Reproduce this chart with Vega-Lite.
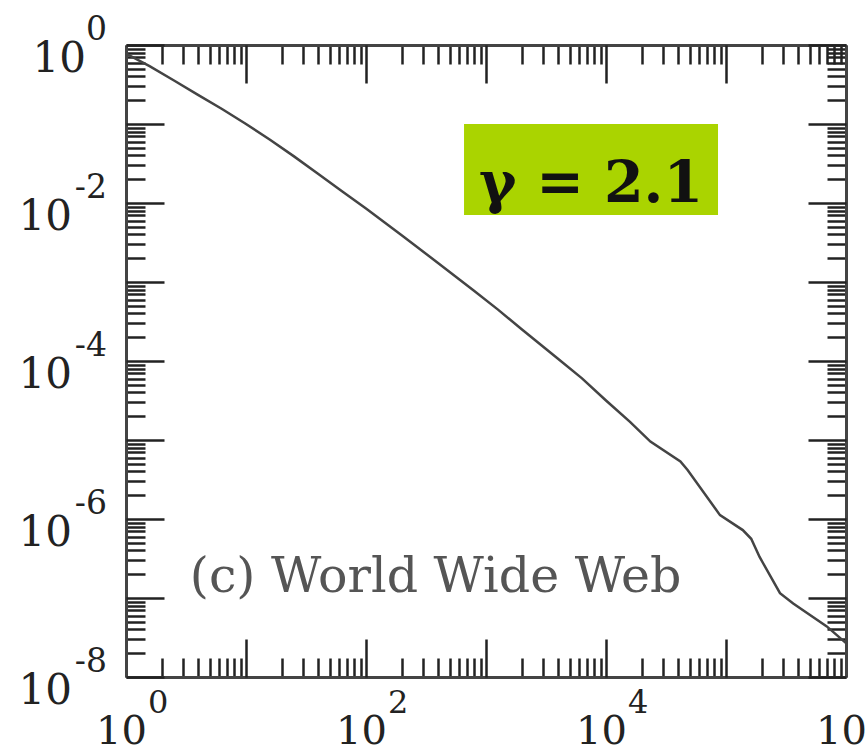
{
  "$schema": "https://vega.github.io/schema/vega-lite/v6.json",
  "width": 720,
  "height": 632,
  "autosize": {"type": "none"},
  "padding": {"left": 126, "top": 45, "right": 22, "bottom": 79},
  "background": "white",
  "config": {"view": {"stroke": null}},
  "datasets": {
    "curve": [
      {"k": 1, "P": 0.776},
      {"k": 1.585, "P": 0.537},
      {"k": 2.512, "P": 0.355},
      {"k": 3.981, "P": 0.234},
      {"k": 6.31, "P": 0.155},
      {"k": 10, "P": 0.1},
      {"k": 15.85, "P": 0.0631},
      {"k": 25.12, "P": 0.0389},
      {"k": 39.81, "P": 0.0234},
      {"k": 63.1, "P": 0.0141},
      {"k": 100, "P": 0.00851},
      {"k": 199.5, "P": 0.00389},
      {"k": 398.1, "P": 0.00174},
      {"k": 794.3, "P": 0.000776},
      {"k": 1259, "P": 0.000447},
      {"k": 1995, "P": 0.000251},
      {"k": 3981, "P": 0.000107},
      {"k": 6310, "P": 0.0000603},
      {"k": 10000, "P": 0.0000316},
      {"k": 15850, "P": 0.000017},
      {"k": 23440, "P": 0.00000955},
      {"k": 41690, "P": 0.00000537},
      {"k": 47860, "P": 0.00000417},
      {"k": 89130, "P": 0.00000112},
      {"k": 138000, "P": 7.24e-7},
      {"k": 162200, "P": 5.62e-7},
      {"k": 190500, "P": 3.31e-7},
      {"k": 281800, "P": 1.15e-7},
      {"k": 363100, "P": 8.51e-8},
      {"k": 691800, "P": 4.37e-8},
      {"k": 1000000, "P": 2.69e-8}
    ],
    "xlab": [
      {"v": 1, "e": "0"},
      {"v": 100, "e": "2"},
      {"v": 10000, "e": "4"},
      {"v": 1000000, "e": "6"}
    ],
    "ylab": [
      {"v": 1, "e": "0"},
      {"v": 0.01, "e": "-2"},
      {"v": 0.0001, "e": "-4"},
      {"v": 0.000001, "e": "-6"},
      {"v": 1e-8, "e": "-8"}
    ],
    "box": [{"x1": 656, "x2": 85800, "y1": 0.1, "y2": 0.00705}],
    "www": [{"x": 3.4, "y": 1.2e-7, "t": "(c) World Wide Web"}],
    "gamma": [{"x": 7500, "y": 0.0103, "t": "γ = 2.1"}]
  },
  "resolve": {"axis": {"x": "independent", "y": "independent"}},
  "layer": [
    {
      "data": {"name": "box"},
      "mark": {"type": "rect", "color": "#aad400"},
      "encoding": {
        "x": {"field": "x1", "type": "quantitative", "scale": {"type": "log", "domain": [1, 1000000], "nice": false},
          "axis": {"orient": "top", "title": null, "labels": false, "grid": false, "domain": true, "domainColor": "#444", "domainWidth": 3, "ticks": true, "tickColor": "#222", "tickWidth": 2.5, "tickSize": -19,
            "values": [2,3,4,5,6,7,8,9,20,30,40,50,60,70,80,90,200,300,400,500,600,700,800,900,2000,3000,4000,5000,6000,7000,8000,9000,20000,30000,40000,50000,60000,70000,80000,90000,200000,300000,400000,500000,600000,700000,800000,900000]}},
        "x2": {"field": "x2"},
        "y": {"field": "y1", "type": "quantitative", "scale": {"type": "log", "domain": [1e-8, 1], "nice": false},
          "axis": {"orient": "right", "title": null, "labels": false, "grid": false, "domain": true, "domainColor": "#444", "domainWidth": 3, "ticks": true, "tickColor": "#222", "tickWidth": 2.5, "tickSize": -19,
            "values": [2e-8,3e-8,4e-8,5e-8,6e-8,7e-8,8e-8,9e-8,2e-7,3e-7,4e-7,5e-7,6e-7,7e-7,8e-7,9e-7,2e-6,3e-6,4e-6,5e-6,6e-6,7e-6,8e-6,9e-6,2e-5,3e-5,4e-5,5e-5,6e-5,7e-5,8e-5,9e-5,0.0002,0.0003,0.0004,0.0005,0.0006,0.0007,0.0008,0.0009,0.002,0.003,0.004,0.005,0.006,0.007,0.008,0.009,0.02,0.03,0.04,0.05,0.06,0.07,0.08,0.09,0.2,0.3,0.4,0.5,0.6,0.7,0.8,0.9]}},
        "y2": {"field": "y2"}
      }
    },
    {
      "data": {"name": "curve"},
      "mark": {"type": "line", "color": "#444", "strokeWidth": 2.5, "clip": true},
      "encoding": {
        "x": {"field": "k", "type": "quantitative",
          "axis": {"orient": "bottom", "title": null, "labels": false, "grid": false, "domain": true, "domainColor": "#444", "domainWidth": 3, "ticks": true, "tickColor": "#222", "tickWidth": 2.5, "tickSize": -19,
            "values": [2,3,4,5,6,7,8,9,20,30,40,50,60,70,80,90,200,300,400,500,600,700,800,900,2000,3000,4000,5000,6000,7000,8000,9000,20000,30000,40000,50000,60000,70000,80000,90000,200000,300000,400000,500000,600000,700000,800000,900000]}},
        "y": {"field": "P", "type": "quantitative",
          "axis": {"orient": "left", "title": null, "labels": false, "grid": false, "domain": true, "domainColor": "#444", "domainWidth": 3, "ticks": true, "tickColor": "#222", "tickWidth": 2.5, "tickSize": -19,
            "values": [2e-8,3e-8,4e-8,5e-8,6e-8,7e-8,8e-8,9e-8,2e-7,3e-7,4e-7,5e-7,6e-7,7e-7,8e-7,9e-7,2e-6,3e-6,4e-6,5e-6,6e-6,7e-6,8e-6,9e-6,2e-5,3e-5,4e-5,5e-5,6e-5,7e-5,8e-5,9e-5,0.0002,0.0003,0.0004,0.0005,0.0006,0.0007,0.0008,0.0009,0.002,0.003,0.004,0.005,0.006,0.007,0.008,0.009,0.02,0.03,0.04,0.05,0.06,0.07,0.08,0.09,0.2,0.3,0.4,0.5,0.6,0.7,0.8,0.9]}}
      }
    },
    {
      "data": {"name": "www"},
      "mark": {"type": "text", "align": "left", "baseline": "alphabetic", "font": "DejaVu Serif", "fontSize": 49, "color": "#555"},
      "encoding": {
        "x": {"field": "x", "type": "quantitative",
          "axis": {"orient": "bottom", "title": null, "labels": false, "grid": false, "domain": false, "ticks": true, "tickColor": "#222", "tickWidth": 2.5, "tickSize": -38,
            "values": [1,10,100,1000,10000,100000,1000000]}},
        "y": {"field": "y", "type": "quantitative",
          "axis": {"orient": "left", "title": null, "labels": false, "grid": false, "domain": false, "ticks": true, "tickColor": "#222", "tickWidth": 2.5, "tickSize": -38,
            "values": [1e-8,1e-7,1e-6,1e-5,0.0001,0.001,0.01,0.1,1]}},
        "text": {"field": "t"}
      }
    },
    {
      "data": {"name": "gamma"},
      "mark": {"type": "text", "align": "center", "baseline": "alphabetic", "font": "DejaVu Serif", "fontWeight": "bold", "fontSize": 57, "color": "#111"},
      "encoding": {
        "x": {"field": "x", "type": "quantitative",
          "axis": {"orient": "top", "title": null, "labels": false, "grid": false, "domain": false, "ticks": true, "tickColor": "#222", "tickWidth": 2.5, "tickSize": -38,
            "values": [1,10,100,1000,10000,100000,1000000]}},
        "y": {"field": "y", "type": "quantitative",
          "axis": {"orient": "right", "title": null, "labels": false, "grid": false, "domain": false, "ticks": true, "tickColor": "#222", "tickWidth": 2.5, "tickSize": -38,
            "values": [1e-8,1e-7,1e-6,1e-5,0.0001,0.001,0.01,0.1,1]}},
        "text": {"field": "t"}
      }
    },
    {
      "data": {"name": "xlab"},
      "mark": {"type": "text", "align": "right", "baseline": "alphabetic", "dx": 21, "dy": 67, "font": "DejaVu Serif", "fontSize": 40, "color": "#222"},
      "encoding": {
        "x": {"field": "v", "type": "quantitative", "axis": null},
        "y": {"datum": 1e-8, "type": "quantitative", "axis": null},
        "text": {"value": "10"}
      }
    },
    {
      "data": {"name": "xlab"},
      "mark": {"type": "text", "align": "left", "baseline": "alphabetic", "dx": 22, "dy": 36, "font": "DejaVu Serif", "fontSize": 32, "color": "#222"},
      "encoding": {
        "x": {"field": "v", "type": "quantitative", "axis": null},
        "y": {"datum": 1e-8, "type": "quantitative", "axis": null},
        "text": {"field": "e"}
      }
    },
    {
      "data": {"name": "ylab"},
      "transform": [{"filter": "datum.e == '0'"}],
      "mark": {"type": "text", "align": "right", "baseline": "alphabetic", "dx": -40, "dy": 27, "font": "DejaVu Serif", "fontSize": 42, "color": "#222"},
      "encoding": {
        "x": {"datum": 1, "type": "quantitative", "axis": null},
        "y": {"field": "v", "type": "quantitative", "axis": null},
        "text": {"value": "10"}
      }
    },
    {
      "data": {"name": "ylab"},
      "transform": [{"filter": "datum.e != '0'"}],
      "mark": {"type": "text", "align": "right", "baseline": "alphabetic", "dx": -54, "dy": 27, "font": "DejaVu Serif", "fontSize": 42, "color": "#222"},
      "encoding": {
        "x": {"datum": 1, "type": "quantitative", "axis": null},
        "y": {"field": "v", "type": "quantitative", "axis": null},
        "text": {"value": "10"}
      }
    },
    {
      "data": {"name": "ylab"},
      "mark": {"type": "text", "align": "right", "baseline": "alphabetic", "dx": -19, "dy": -5, "font": "DejaVu Serif", "fontSize": 33, "color": "#222"},
      "encoding": {
        "x": {"datum": 1, "type": "quantitative", "axis": null},
        "y": {"field": "v", "type": "quantitative", "axis": null},
        "text": {"field": "e"}
      }
    }
  ]
}
